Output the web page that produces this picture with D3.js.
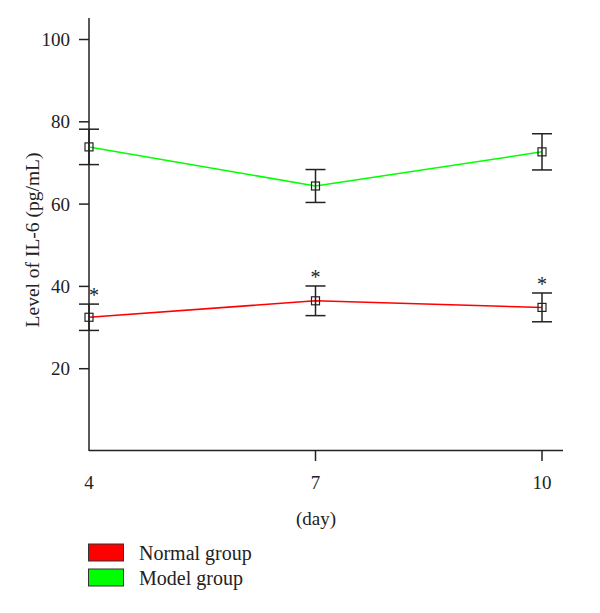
<!DOCTYPE html>
<html><head><meta charset="utf-8">
<script src="https://cdn.jsdelivr.net/npm/d3@7"></script>
<style>body{margin:0;background:#fff}svg{display:block}text{font-family:"Liberation Serif","DejaVu Serif",serif;fill:#222}</style>
</head><body>
<script>
const days = [4, 7, 10];
const yTicks = [20, 40, 60, 80, 100];
const normalMean = [32.5, 36.5, 34.9];
const normalErr  = [3.2, 3.6, 3.5];
const modelMean  = [73.9, 64.4, 72.7];
const modelErr   = [4.3, 4.0, 4.4];
const series = [
  {name: "Normal group", color: "#ff0000", mean: normalMean, err: normalErr, star: true},
  {name: "Model group", color: "#00ff00", mean: modelMean, err: modelErr, star: false}
];

const W = 600, H = 613;
const svg = d3.select("body").append("svg").attr("width", W).attr("height", H);
const x = d3.scaleLinear().domain([4, 10]).range([89, 542]);
const y = d3.scaleLinear().domain([0, 100]).range([451, 39.5]);

// axes
svg.append("line").attr("x1", 89).attr("x2", 89).attr("y1", 18).attr("y2", 451).attr("stroke", "#222").attr("stroke-width", 1.5);
svg.append("line").attr("x1", 89).attr("x2", 563).attr("y1", 450.5).attr("y2", 450.5).attr("stroke", "#222").attr("stroke-width", 1.5);

const yAxis = svg.append("g");
yTicks.forEach(t => {
  yAxis.append("line").attr("x1", 79).attr("x2", 89).attr("y1", y(t)).attr("y2", y(t)).attr("stroke", "#222").attr("stroke-width", 1.5);
  yAxis.append("text").attr("x", 70).attr("y", y(t)).attr("dy", "0.35em").attr("text-anchor", "end").attr("font-size", 19).text(t);
});
days.forEach(d => {
  if (d !== 4) svg.append("line").attr("x1", x(d)).attr("x2", x(d)).attr("y1", 450).attr("y2", 461).attr("stroke", "#222").attr("stroke-width", 1.5);
  svg.append("text").attr("x", x(d)).attr("y", 489).attr("text-anchor", "middle").attr("font-size", 19).text(d);
});
svg.append("text").attr("x", 316).attr("y", 525).attr("text-anchor", "middle").attr("font-size", 19).text("(day)");
svg.append("text").attr("transform", "translate(39,240) rotate(-90)").attr("text-anchor", "middle").attr("font-size", 19.5).text("Level of IL-6 (pg/mL)");

const line = d3.line().x((v, i) => x(days[i])).y(v => y(v));
series.forEach(s => {
  svg.append("path").attr("d", line(s.mean)).attr("fill", "none").attr("stroke", s.color).attr("stroke-width", 1.5);
  s.mean.forEach((m, i) => {
    const cx = x(days[i]);
    const g = svg.append("g").attr("stroke", "#222").attr("stroke-width", 1.5);
    g.append("line").attr("x1", cx).attr("x2", cx).attr("y1", y(m + s.err[i])).attr("y2", y(m - s.err[i]));
    g.append("line").attr("x1", cx - 10).attr("x2", cx + 10).attr("y1", y(m + s.err[i])).attr("y2", y(m + s.err[i]));
    g.append("line").attr("x1", cx - 10).attr("x2", cx + 10).attr("y1", y(m - s.err[i])).attr("y2", y(m - s.err[i]));
    g.append("rect").attr("x", cx - 4).attr("y", y(m) - 4).attr("width", 8).attr("height", 8).attr("fill", "none").attr("stroke-width", 1.2);
    if (s.star) {
      svg.append("text").attr("x", i === 0 ? cx + 5 : cx).attr("y", y(m + s.err[i]) - 2).attr("text-anchor", "middle").attr("font-size", 20).text("*");
    }
  });
});

// legend
series.forEach((s, i) => {
  const ly = 544 + i * 25;
  svg.append("rect").attr("x", 88.5).attr("y", ly).attr("width", 35).attr("height", 17).attr("fill", s.color).attr("stroke", "#333").attr("stroke-width", 1);
  svg.append("text").attr("x", 139).attr("y", ly + 8.5).attr("dy", "0.35em").attr("font-size", 20).text(s.name);
});
</script>
</body></html>
